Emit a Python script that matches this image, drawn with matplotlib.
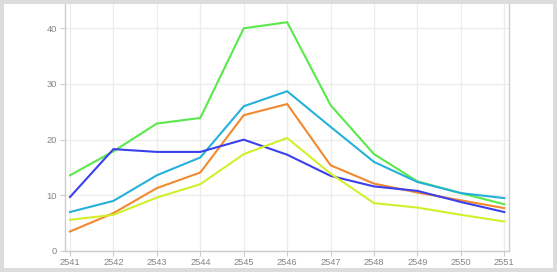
import matplotlib.pyplot as plt
from matplotlib.patches import Rectangle

years = [2541, 2542, 2543, 2544, 2545, 2546, 2547, 2548, 2549, 2550, 2551]
green = [13.6, 17.9, 22.9, 23.9, 40.0, 41.1, 26.2, 17.4, 12.5, 10.4, 8.4]
cyan = [7.0, 9.0, 13.6, 16.8, 26.0, 28.7, 22.3, 16.0, 12.4, 10.4, 9.5]
orange = [3.5, 6.8, 11.3, 14.1, 24.4, 26.4, 15.4, 12.1, 10.5, 9.1, 7.7]
blue = [9.7, 18.3, 17.8, 17.8, 20.0, 17.3, 13.5, 11.6, 10.8, 8.8, 7.0]
yellow = [5.6, 6.5, 9.6, 12.0, 17.4, 20.3, 13.9, 8.6, 7.8, 6.5, 5.3]

series = [(green, '#5ae94a'), (cyan, '#25b1d8'), (orange, '#f2892e'),
          (blue, '#3b40ee'), (yellow, '#d2ef2c')]

plt.rcParams['font.family'] = ['Liberation Sans', 'DejaVu Sans']

W, H = 557, 272
fig = plt.figure(figsize=(W / 100, H / 100), dpi=100)
fig.patch.set_facecolor('#dcdcdc')
panel = Rectangle((4 / W, 4 / H), 549 / W, 264 / H,
                  transform=fig.transFigure, facecolor='white',
                  edgecolor='none', zorder=-10)
fig.add_artist(panel)

ax = fig.add_axes([65 / W, 21 / H, 444 / W, 247 / H])
ax.set_facecolor('white')

for vals, col in series:
    ax.plot(years, vals, color=col, lw=1.5, solid_joinstyle='miter')

ax.set_xlim(2540.885, 2551.108)
ax.set_ylim(0, 44.37)
ax.set_xticks(years)
ax.set_xticklabels([str(y) for y in years])
ax.set_yticks([0, 10, 20, 30, 40])

ax.grid(True, color='#ececec', lw=0.9)
ax.set_axisbelow(True)
for s in ['left', 'right', 'bottom']:
    ax.spines[s].set_color('#cccccc')
    ax.spines[s].set_linewidth(1)
ax.spines['top'].set_visible(False)

ax.tick_params(axis='both', colors='#cccccc', labelcolor='#858585',
               labelsize=6.7, length=3.5, width=0.8)
ax.tick_params(axis='y', pad=2.5)
ax.tick_params(axis='x', pad=1.5)

fig.savefig('out.png', dpi=100, facecolor=fig.get_facecolor())
